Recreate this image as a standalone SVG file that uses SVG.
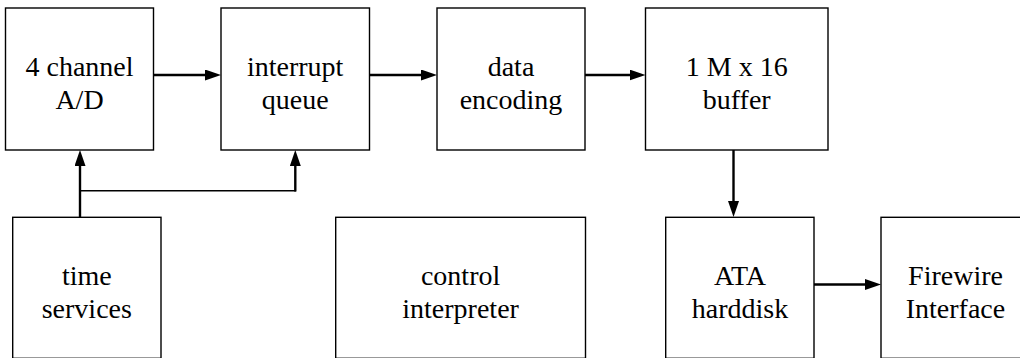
<svg xmlns="http://www.w3.org/2000/svg" width="1020" height="358" viewBox="0 0 1020 358">
<style>
.box{fill:#fff;stroke:#000;stroke-width:1.4}
.lbl{font-size:28px;fill:#000;text-anchor:middle}
.arr{fill:none;stroke:#000;stroke-width:2.4;marker-end:url(#ah)}
.thin{fill:none;stroke:#000;stroke-width:1.6}
</style>
<defs>
<marker id="ah" viewBox="0 0 16 11" refX="6" refY="5.5" markerWidth="16" markerHeight="11" markerUnits="userSpaceOnUse" orient="auto">
<path d="M0,0 L16,5.5 L0,11 z" fill="#000"/>
</marker>
</defs>
<rect width="1020" height="358" fill="#fff"/>
<g id="connectors">
<line class="arr" x1="153.5" y1="75" x2="211" y2="75"/>
<line class="arr" x1="369.5" y1="75" x2="427" y2="75"/>
<line class="arr" x1="585" y1="75" x2="635.5" y2="75"/>
<line class="arr" x1="733.5" y1="150" x2="733.5" y2="207"/>
<line class="arr" x1="814" y1="284.5" x2="871" y2="284.5"/>
<line class="arr" x1="80" y1="217.3" x2="80" y2="160"/>
<line class="thin" x1="80" y1="190.7" x2="296" y2="190.7"/>
<line class="arr" x1="295.3" y1="191.5" x2="295.3" y2="160"/>
</g>
<g font-family="'Liberation Serif', 'Noto Serif', 'DejaVu Serif', serif">
<g id="ad">
<rect class="box" x="5.5" y="8" width="148" height="142"/>
<text class="lbl" x="79.5" y="76">4 channel</text>
<text class="lbl" x="79.5" y="109">A/D</text>
</g>
<g id="queue">
<rect class="box" x="221" y="8" width="148.5" height="142"/>
<text class="lbl" x="295.2" y="76">interrupt</text>
<text class="lbl" x="295.2" y="109">queue</text>
</g>
<g id="encoding">
<rect class="box" x="437" y="8" width="148" height="142"/>
<text class="lbl" x="511" y="76">data</text>
<text class="lbl" x="511" y="108.5">encoding</text>
</g>
<g id="buffer">
<rect class="box" x="645.5" y="8" width="182.5" height="142"/>
<text class="lbl" x="736.7" y="76">1 M x 16</text>
<text class="lbl" x="736.7" y="108.5">buffer</text>
</g>
<g id="time">
<rect class="box" x="12.7" y="217.3" width="148.3" height="141"/>
<text class="lbl" x="86.8" y="284.5">time</text>
<text class="lbl" x="86.8" y="318">services</text>
</g>
<g id="control">
<rect class="box" x="335.7" y="217.3" width="249.8" height="141"/>
<text class="lbl" x="460.6" y="284.5">control</text>
<text class="lbl" x="460.6" y="318">interpreter</text>
</g>
<g id="ata">
<rect class="box" x="665.7" y="217.3" width="148.3" height="141"/>
<text class="lbl" x="740" y="284.5">ATA</text>
<text class="lbl" x="740" y="318">harddisk</text>
</g>
<g id="firewire">
<rect class="box" x="881" y="217.3" width="148" height="141"/>
<text class="lbl" x="955.5" y="284.5">Firewire</text>
<text class="lbl" x="955.5" y="318">Interface</text>
</g>
</g>
</svg>
